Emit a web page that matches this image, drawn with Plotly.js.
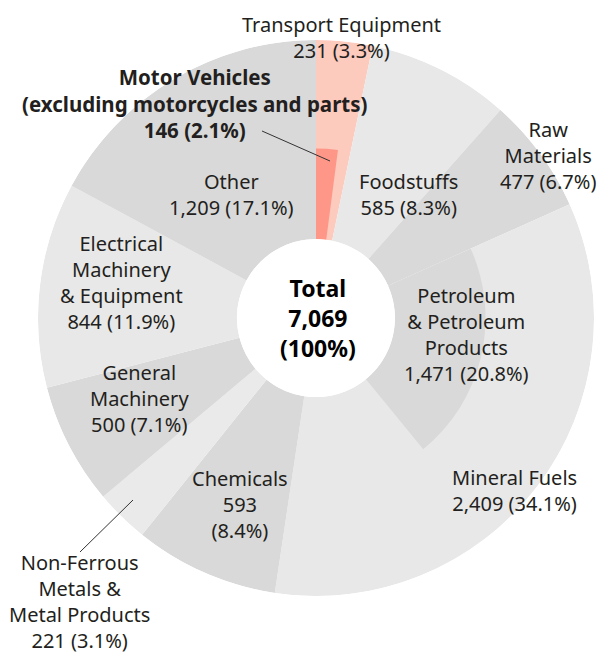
<!DOCTYPE html>
<html>
<head>
<meta charset="utf-8">
<script src="https://cdn.plot.ly/plotly-3.0.1.min.js"></script>
<style>html,body{margin:0;padding:0;background:#fff;}#chart{width:606px;height:655px;}</style>
</head>
<body>
<div id="chart"></div>
<script>
// ---- data ----
const categories = ["Transport Equipment", "Foodstuffs", "Raw Materials", "Mineral Fuels", "Chemicals",
  "Non-Ferrous Metals & Metal Products", "General Machinery", "Electrical Machinery & Equipment", "Other"];
const values = [231, 585, 477, 2409, 593, 221, 500, 844, 1209];
const subCategories = ["Motor Vehicles (excluding motorcycles and parts)", "Petroleum & Petroleum Products"];
const subValues = [146, 1471];
const subParent = ["Transport Equipment", "Mineral Fuels"];
const total = 7069;

// ---- styles ----
const LIGHT = '#e8e8e8', DARK = '#d9d9d9';
const outerColors = ['#fdcabe', LIGHT, DARK, LIGHT, DARK, '#eaeaea', DARK, LIGHT, DARK];
const innerColors = ['#fe9787', DARK];
const INNER_R = 0.455, OUTER_R = 1;

const deg = v => v / total * 360;
const starts = [];
let acc = 0;
values.forEach(v => { starts.push(acc); acc += deg(v); });

const outer = {
  type: 'barpolar',
  theta: values.map((v, i) => starts[i] + deg(v) / 2),
  width: values.map(deg),
  r: values.map(() => OUTER_R),
  marker: {color: outerColors, line: {width: 0}},
  text: categories, hoverinfo: 'text', showlegend: false
};
const innerStarts = subParent.map(p => starts[categories.indexOf(p)]);
const inner = {
  type: 'barpolar',
  theta: subValues.map((v, i) => innerStarts[i] + deg(v) / 2),
  width: subValues.map(deg),
  r: subValues.map(() => INNER_R),
  marker: {color: innerColors, line: {width: 0}},
  text: subCategories, hoverinfo: 'text', showlegend: false
};

const W = 606, H = 655;
const px = x => x / W, py = y => 1 - y / H;
const fmt = n => n.toLocaleString('en-US');
const pct = n => (n / total * 100).toFixed(1) + '%';
const TXT = '#231f20';
function lab(text, x, y, opts) {
  return Object.assign({text, x: px(x), y: py(y), xref: 'paper', yref: 'paper', showarrow: false,
    xanchor: 'center', yanchor: 'middle', align: 'center',
    font: {family: 'Noto Sans', size: 20, color: TXT}}, opts || {});
}
const v = values, s = subValues;
const annotations = [
  lab(`Transport Equipment<br>${fmt(v[0])} (${pct(v[0])})`, 342, 37),
  lab(`<b>Motor Vehicles<br>(excluding motorcycles and parts)<br>${fmt(s[0])} (${pct(s[0])})</b>`, 194, 103, {font: {family: 'Noto Sans', size: 20.5, color: TXT}}),
  lab(`Other<br>${fmt(v[8])} (${pct(v[8])})`, 231, 194),
  lab(`Foodstuffs<br>${fmt(v[1])} (${pct(v[1])})`, 408, 194),
  lab(`Raw<br>Materials<br>${fmt(v[2])} (${pct(v[2])})`, 548, 155),
  lab(`Electrical<br>Machinery<br>&amp; Equipment<br>${fmt(v[7])} (${pct(v[7])})`, 121, 282),
  lab(`<b>Total<br>${fmt(total)}<br>(100%)</b>`, 318, 318, {font: {family: 'Noto Sans', size: 23, color: '#000'}}),
  lab(`Petroleum<br>&amp; Petroleum<br>Products<br>${fmt(s[1])} (${pct(s[1])})`, 466, 334),
  lab(`General<br>Machinery<br>${fmt(v[6])} (${pct(v[6])})`, 139, 399),
  lab(`Chemicals<br>${fmt(v[4])}<br>(${pct(v[4])})`, 240, 504),
  lab(`Mineral Fuels<br>${fmt(v[3])} (${pct(v[3])})`, 514, 490),
  lab(`Non-Ferrous<br>Metals &amp;<br>Metal Products<br>${fmt(v[5])} (${pct(v[5])})`, 80, 601)
];
const shapes = [
  {type: 'line', xref: 'paper', yref: 'paper', x0: px(262), y0: py(131), x1: px(330), y1: py(161), line: {color: '#333', width: 1}},
  {type: 'line', xref: 'paper', yref: 'paper', x0: px(80), y0: py(552), x1: px(133), y1: py(500), line: {color: '#333', width: 1}}
];

const layout = {
  width: W, height: H,
  margin: {l: 0, r: 0, t: 0, b: 0},
  paper_bgcolor: '#fff',
  showlegend: false,
  polar: {
    domain: {x: [38 / W, 594 / W], y: [1 - 596 / H, 1 - 40 / H]},
    hole: 79 / 278,
    barmode: 'overlay',
    bgcolor: '#fff',
    radialaxis: {visible: false, range: [0, 1], showgrid: false},
    angularaxis: {visible: false, direction: 'clockwise', rotation: 90, showgrid: false}
  },
  annotations, shapes
};
Plotly.newPlot('chart', [outer, inner], layout, {staticPlot: true});
</script>
</body>
</html>
